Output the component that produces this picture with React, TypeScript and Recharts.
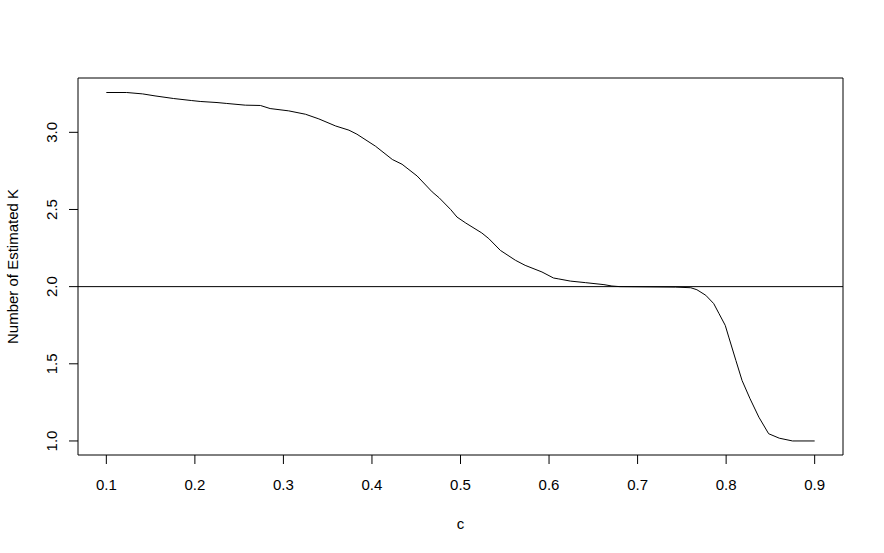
import { LineChart, Line, XAxis, YAxis, ReferenceLine, ReferenceArea, Label } from 'recharts';

// c values and estimated K
const cValues = [
  0.1, 0.123, 0.141, 0.155, 0.176, 0.196, 0.206, 0.225, 0.236, 0.257, 0.274, 0.285, 0.306, 0.325,
  0.34, 0.359, 0.374, 0.383, 0.404, 0.423, 0.434, 0.451, 0.468, 0.476, 0.489, 0.496, 0.506, 0.524,
  0.532, 0.545, 0.562, 0.573, 0.592, 0.605, 0.611, 0.624, 0.641, 0.662, 0.671, 0.68, 0.743, 0.76,
  0.767, 0.777, 0.786, 0.792, 0.799, 0.803, 0.811, 0.818, 0.827, 0.837, 0.848, 0.86, 0.875, 0.9,
];
const kValues = [
  3.258, 3.258, 3.249, 3.236, 3.219, 3.206, 3.2, 3.193, 3.187, 3.176, 3.174, 3.154, 3.139, 3.117,
  3.087, 3.041, 3.014, 2.988, 2.91, 2.824, 2.793, 2.717, 2.614, 2.575, 2.499, 2.451, 2.412, 2.348,
  2.311, 2.235, 2.171, 2.138, 2.095, 2.056, 2.05, 2.036, 2.026, 2.013, 2.004, 2.0, 1.997, 1.993,
  1.98, 1.944, 1.89, 1.825, 1.749, 1.673, 1.522, 1.392, 1.274, 1.154, 1.047, 1.018, 1.0, 1.0,
];
const xTicks = [0.1, 0.2, 0.3, 0.4, 0.5, 0.6, 0.7, 0.8, 0.9];
const yTicks = [1.0, 1.5, 2.0, 2.5, 3.0];

const X_MIN = 0.068;
const X_MAX = 0.932;
const Y_MIN = 0.909;
const Y_MAX = 3.352;

const FONT = '"Liberation Sans", Arial, sans-serif';
const FS = 15;

const data = cValues.map((c, i) => ({ c, k: kValues[i] }));

function XTick({ x, payload }: any) {
  return (
    <text x={x} y={490} textAnchor="middle" fontSize={FS} fontFamily={FONT} fill="#000">
      {payload.value.toFixed(1)}
    </text>
  );
}

function YTick({ y, payload }: any) {
  return (
    <text
      x={57}
      y={y}
      transform={`rotate(-90, 57, ${y})`}
      textAnchor="middle"
      fontSize={FS}
      fontFamily={FONT}
      fill="#000"
    >
      {payload.value.toFixed(1)}
    </text>
  );
}

export default function App() {
  return (
    <div style={{ position: 'fixed', left: 0, top: 0, width: 884, height: 553, background: '#fff' }}>
      <LineChart width={884} height={553} data={data} margin={{ top: 78, right: 41, bottom: 0, left: 0 }}>
        <XAxis
          dataKey="c"
          type="number"
          domain={[X_MIN, X_MAX]}
          ticks={xTicks}
          allowDataOverflow
          height={98}
          axisLine={false}
          tickLine={{ stroke: '#000' }}
          tickSize={9}
          tick={<XTick />}
        >
          <Label value="c" position="insideBottom" offset={24} fontSize={FS} fontFamily={FONT} fill="#000" />
        </XAxis>
        <YAxis
          type="number"
          domain={[Y_MIN, Y_MAX]}
          ticks={yTicks}
          allowDataOverflow
          width={78}
          axisLine={false}
          tickLine={{ stroke: '#000' }}
          tickSize={9}
          tick={<YTick />}
        >
          <Label
            value="Number of Estimated K"
            angle={-90}
            position="insideLeft"
            offset={13}
            fontSize={FS}
            fontFamily={FONT}
            fill="#000"
            style={{ textAnchor: 'middle' }}
          />
        </YAxis>
        <ReferenceArea x1={X_MIN} x2={X_MAX} y1={Y_MIN} y2={Y_MAX} fill="none" stroke="#000" strokeWidth={1} />
        <ReferenceLine y={2} stroke="#000" strokeWidth={1} />
        <Line
          type="linear"
          dataKey="k"
          stroke="#000"
          strokeWidth={1}
          dot={false}
          isAnimationActive={false}
        />
      </LineChart>
    </div>
  );
}
